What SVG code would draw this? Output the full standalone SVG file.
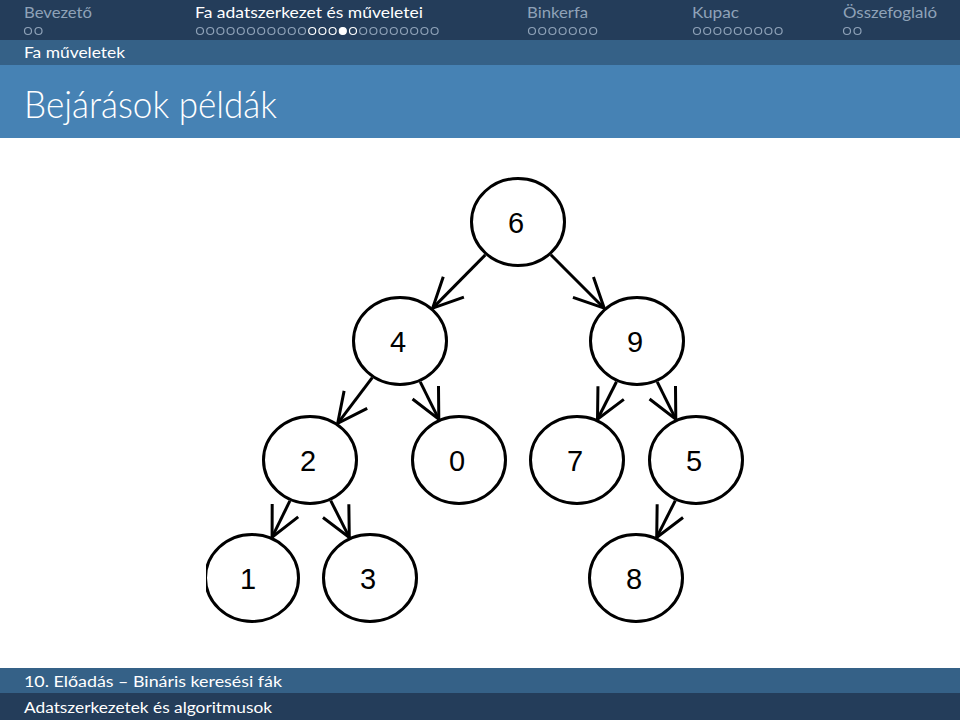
<svg xmlns="http://www.w3.org/2000/svg" width="960" height="720" viewBox="0 0 960 720">
<style>
.hd{font-family:Lato,"Open Sans","DejaVu Sans",sans-serif;font-size:15px;fill:#8fa2b8}
.hda{fill:#ffffff}
.sub{font-family:Lato,"Open Sans","DejaVu Sans",sans-serif;font-size:15px;fill:#ffffff}
.ttl{font-family:Lato,"Open Sans","DejaVu Sans",sans-serif;font-size:38px;font-weight:300;fill:#ffffff}
.ft{font-family:Lato,"Open Sans","DejaVu Sans",sans-serif;font-size:14.5px;fill:#ffffff}
.dg{fill:none;stroke:#8fa2b8;stroke-width:1.2}
.dw{fill:none;stroke:#ffffff;stroke-width:1.2}
.df{fill:#ffffff;stroke:#ffffff;stroke-width:1.2}
.node ellipse{fill:#ffffff;stroke:#000000;stroke-width:3}
.node text{font-family:"Liberation Sans",Arial,sans-serif;font-size:29px;fill:#000000;text-anchor:middle}
.edge{stroke:#000000;stroke-width:3;fill:none;marker-end:url(#arr)}
</style>
<defs>
<marker id="arr" markerUnits="userSpaceOnUse" markerWidth="40" markerHeight="40" viewBox="-36 -20 40 40" refX="0" refY="0" orient="auto">
<path d="M -29.7 -14.5 L 0 0 L -29.7 14.5" fill="none" stroke="#000000" stroke-width="3" stroke-linecap="butt" stroke-linejoin="miter"/>
</marker>
<clipPath id="clipL"><rect x="206" y="500" width="200" height="140"/></clipPath>
</defs>
<rect x="0" y="0" width="960" height="720" fill="#ffffff"/>
<!-- header bars -->
<rect x="0" y="0" width="960" height="40" fill="#243d5a"/>
<rect x="0" y="40" width="960" height="25" fill="#356187"/>
<rect x="0" y="65" width="960" height="73" fill="#4682b4"/>
<rect x="0" y="668" width="960" height="25" fill="#356187"/>
<rect x="0" y="693" width="960" height="27" fill="#243d5a"/>
<g id="header">
<text class="hd" x="24" y="18" textLength="68" lengthAdjust="spacingAndGlyphs">Bevezető</text>
<text class="hd hda" x="195" y="18" textLength="228" lengthAdjust="spacingAndGlyphs">Fa adatszerkezet és műveletei</text>
<text class="hd" x="527" y="18" textLength="61" lengthAdjust="spacingAndGlyphs">Binkerfa</text>
<text class="hd" x="692" y="18" textLength="47" lengthAdjust="spacingAndGlyphs">Kupac</text>
<text class="hd" x="843" y="18" textLength="94" lengthAdjust="spacingAndGlyphs">Összefoglaló</text>
<g id="dots">
<circle class="dg" cx="28" cy="31" r="3.5"/><circle class="dg" cx="38.5" cy="31" r="3.5"/>
<circle class="dg" cx="200" cy="31" r="3.5"/><circle class="dg" cx="210.2" cy="31" r="3.5"/><circle class="dg" cx="220.4" cy="31" r="3.5"/><circle class="dg" cx="230.6" cy="31" r="3.5"/><circle class="dg" cx="240.8" cy="31" r="3.5"/><circle class="dg" cx="251" cy="31" r="3.5"/><circle class="dg" cx="261.2" cy="31" r="3.5"/><circle class="dg" cx="271.4" cy="31" r="3.5"/><circle class="dg" cx="281.6" cy="31" r="3.5"/><circle class="dg" cx="291.8" cy="31" r="3.5"/><circle class="dg" cx="302" cy="31" r="3.5"/>
<circle class="dw" cx="312.2" cy="31" r="3.5"/><circle class="dw" cx="322.4" cy="31" r="3.5"/><circle class="dw" cx="332.6" cy="31" r="3.5"/>
<circle class="df" cx="342.8" cy="31" r="3.5"/>
<circle class="dw" cx="353" cy="31" r="3.5"/>
<circle class="dg" cx="363.2" cy="31" r="3.5"/><circle class="dg" cx="373.4" cy="31" r="3.5"/><circle class="dg" cx="383.6" cy="31" r="3.5"/><circle class="dg" cx="393.8" cy="31" r="3.5"/><circle class="dg" cx="404" cy="31" r="3.5"/><circle class="dg" cx="414.2" cy="31" r="3.5"/><circle class="dg" cx="424.4" cy="31" r="3.5"/><circle class="dg" cx="434.6" cy="31" r="3.5"/>
<circle class="dg" cx="532" cy="31" r="3.5"/><circle class="dg" cx="542.2" cy="31" r="3.5"/><circle class="dg" cx="552.4" cy="31" r="3.5"/><circle class="dg" cx="562.6" cy="31" r="3.5"/><circle class="dg" cx="572.8" cy="31" r="3.5"/><circle class="dg" cx="583" cy="31" r="3.5"/><circle class="dg" cx="593.2" cy="31" r="3.5"/>
<circle class="dg" cx="697" cy="31" r="3.5"/><circle class="dg" cx="707.2" cy="31" r="3.5"/><circle class="dg" cx="717.4" cy="31" r="3.5"/><circle class="dg" cx="727.6" cy="31" r="3.5"/><circle class="dg" cx="737.8" cy="31" r="3.5"/><circle class="dg" cx="748" cy="31" r="3.5"/><circle class="dg" cx="758.2" cy="31" r="3.5"/><circle class="dg" cx="768.4" cy="31" r="3.5"/><circle class="dg" cx="778.6" cy="31" r="3.5"/>
<circle class="dg" cx="847" cy="31" r="3.5"/><circle class="dg" cx="857.5" cy="31" r="3.5"/>
</g>
<text class="sub" x="24" y="58" textLength="101" lengthAdjust="spacingAndGlyphs">Fa műveletek</text>
<text class="ttl" x="24" y="118" textLength="253" lengthAdjust="spacingAndGlyphs">Bejárások példák</text>
</g>
<g id="footer">
<text class="ft" x="24" y="687" textLength="258" lengthAdjust="spacingAndGlyphs">10. Előadás – Bináris keresési fák</text>
<text class="ft" x="24" y="713" textLength="248" lengthAdjust="spacingAndGlyphs">Adatszerkezetek és algoritmusok</text>
</g>
<g id="connectors">
<line class="edge" x1="485.3" y1="254.9" x2="432.7" y2="308.1"/>
<line class="edge" x1="550.8" y1="254.8" x2="604.2" y2="308.2"/>
<line class="edge" x1="372.3" y1="377.7" x2="337.7" y2="423.3"/>
<line class="edge" x1="420.2" y1="381.9" x2="438.8" y2="419.1"/>
<line class="edge" x1="616.5" y1="381.7" x2="597.5" y2="419.3"/>
<line class="edge" x1="657.2" y1="381.9" x2="675.8" y2="419.1"/>
<line class="edge" x1="289.9" y1="500.9" x2="272.1" y2="537.1"/>
<line class="edge" x1="330.7" y1="500.6" x2="349.3" y2="537.4"/>
<line class="edge" x1="675.3" y1="500.6" x2="656.7" y2="537.4"/>
</g>
<g id="n6" class="node"><ellipse cx="518" cy="222" rx="46.5" ry="43.5"/><text x="516" y="233">6</text></g>
<g id="n4" class="node"><ellipse cx="400" cy="341" rx="46.5" ry="43.5"/><text x="398" y="352">4</text></g>
<g id="n9" class="node"><ellipse cx="637" cy="341" rx="46.5" ry="43.5"/><text x="635" y="352">9</text></g>
<g id="n2" class="node"><ellipse cx="310" cy="460" rx="46.5" ry="43.5"/><text x="308" y="471">2</text></g>
<g id="n0" class="node"><ellipse cx="459" cy="460" rx="46.5" ry="43.5"/><text x="457" y="471">0</text></g>
<g id="n7" class="node"><ellipse cx="577" cy="460" rx="46.5" ry="43.5"/><text x="575" y="471">7</text></g>
<g id="n5" class="node"><ellipse cx="696" cy="460" rx="46.5" ry="43.5"/><text x="694" y="471">5</text></g>
<g id="n1" class="node" clip-path="url(#clipL)"><ellipse cx="252" cy="578" rx="46.5" ry="43.5"/><text x="248" y="589">1</text></g>
<g id="n3" class="node"><ellipse cx="370" cy="578" rx="46.5" ry="43.5"/><text x="368" y="589">3</text></g>
<g id="n8" class="node"><ellipse cx="636" cy="578" rx="46.5" ry="43.5"/><text x="634" y="589">8</text></g>
</svg>
